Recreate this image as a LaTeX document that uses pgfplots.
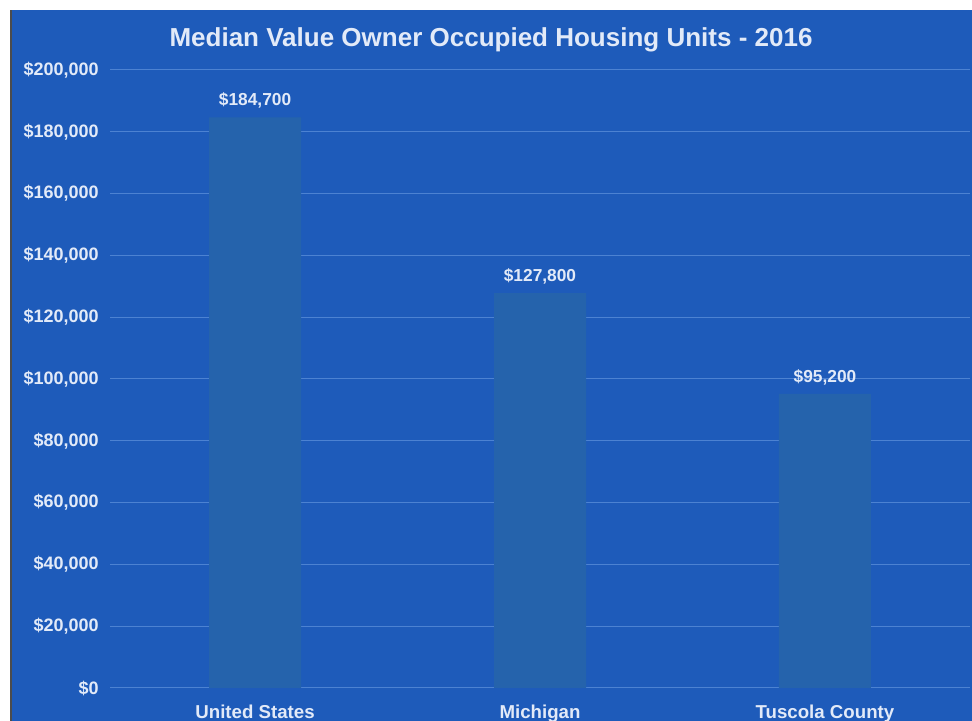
\documentclass[border=0pt]{standalone}
\usepackage{pgfplots}
\pgfplotsset{compat=1.18}
\usepackage{fontspec}
\setmainfont{Liberation Sans}
\definecolor{bgblue}{HTML}{1E5BBA}
\definecolor{barblue}{HTML}{2563AC}
\definecolor{gridblue}{HTML}{4C82D2}
\definecolor{txt}{HTML}{E2EAF8}
\begin{document}
\begin{tikzpicture}
\useasboundingbox (0,0) rectangle (729pt,540.75pt);
\fill[white] (0,0) rectangle (729pt,540.75pt);
\fill[bgblue] (9pt,0) rectangle (729pt,533.25pt);
\draw[black!70, line width=1.2pt] (8.4pt,0) -- (8.4pt,533.25pt);
\begin{axis}[
  at={(82.5pt,24.75pt)}, anchor=south west,
  scale only axis, width=645pt, height=463.5pt,
  xmin=-0.509, xmax=2.509, ymin=0, ymax=200000,
  ytick={0,20000,...,200000},
  xtick={0,1,2},
  xticklabels={United States,Michigan,Tuscola County},
  axis line style={draw=none},
  major tick length=0pt,
  ymajorgrids, grid style={gridblue, line width=0.75pt},
  scaled y ticks=false,
  /pgf/number format/assume math mode=true,
  /pgf/number format/.cd, fixed, precision=0, 1000 sep={,},
  /pgfplots/.cd,
  yticklabel={\$\pgfmathprintnumber{\tick}},
  yticklabel style={font=\bfseries\fontsize{13.5pt}{15pt}\selectfont, text=txt, xshift=-5pt},
  xticklabel style={font=\bfseries\fontsize{14pt}{16pt}\selectfont, text=txt, yshift=-9pt},
  ybar, bar width=69pt,
  nodes near coords={\$\pgfmathprintnumber{\pgfplotspointmeta}},
  every node near coord/.append style={font=\bfseries\fontsize{13pt}{15pt}\selectfont, text=txt, yshift=3pt},
]
\addplot[fill=barblue, draw=none] coordinates {(0,184700) (1,127800) (2,95200)};
\end{axis}
\node[text=txt, font=\bfseries\fontsize{19.5pt}{23pt}\selectfont] at (368.25pt,510.75pt) {Median Value Owner Occupied Housing Units - 2016};
\end{tikzpicture}
\end{document}
